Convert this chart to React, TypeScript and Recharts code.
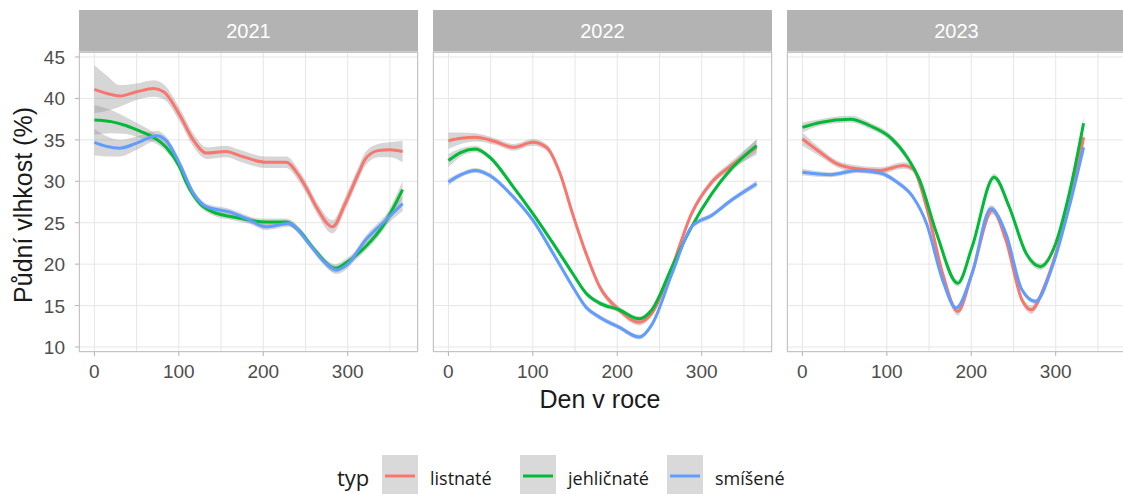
import React from 'react';
import { ComposedChart, Line, Area, XAxis, YAxis, CartesianGrid } from 'recharts';

// ---- data: [den v roce, půdní vlhkost %, polovina šířky pásu] ----
const YEARS = ['2021', '2022', '2023'];
const SERIES_NAMES = ['listnaté', 'jehličnaté', 'smíšené'];
const SERIES_COLORS = ['#F8766D', '#00BA38', '#619CFF'];
const X_TICKS = [0, 50, 100, 150, 200, 250, 300, 350];
const X_LABELED = [0, 100, 200, 300];
const Y_TICKS = [10, 15, 20, 25, 30, 35, 40, 45];

const listnate2021 = [[0,41.1,2.9],[15,40.6,2.1],[30,40.3,1.3],[50,40.8,1.0],[70,41.2,1.0],[82,40.8,0.9],[101,38.0,0.8],[117,35.0,0.8],[133,33.4,0.7],[156,33.6,0.7],[172,33.1,0.7],[203,32.3,0.7],[227,32.3,0.7],[242,30.7,0.7],[252,29.0,0.7],[264,26.7,0.7],[282,24.5,0.8],[297,27.3,0.8],[313,31.0,0.8],[321,32.7,0.8],[336,33.7,0.8],[350,33.8,0.9],[365,33.6,1.3]];
const jehlicnate2021 = [[0,37.4,1.8],[20,37.2,1.4],[38,36.7,1.0],[55,36.0,0.8],[70,35.3,0.6],[85,34.1,0.5],[101,31.7,0.5],[109,29.8,0.5],[125,27.3,0.4],[140,26.3,0.4],[164,25.7,0.4],[203,25.1,0.4],[227,25.1,0.4],[242,24.1,0.4],[261,21.7,0.4],[285,19.5,0.5],[297,20.1,0.5],[321,22.1,0.5],[341,24.5,0.6],[365,29.0,1.0]];
const smisene2021 = [[0,34.7,1.6],[15,34.2,1.2],[30,34.0,1.0],[50,34.6,0.8],[74,35.5,0.6],[85,34.9,0.5],[101,32.1,0.5],[117,28.6,0.4],[133,26.9,0.4],[160,26.3,0.4],[180,25.5,0.4],[203,24.5,0.4],[230,24.9,0.4],[254,22.5,0.4],[270,20.5,0.4],[287,19.3,0.5],[300,20.0,0.5],[321,22.9,0.5],[345,25.3,0.6],[365,27.3,0.9]];

const listnate2022 = [[0,34.9,1.0],[15,35.2,0.7],[32,35.3,0.5],[55,34.8,0.4],[77,34.1,0.4],[100,34.7,0.4],[116,34.1,0.4],[132,31.0,0.4],[147,26.1,0.4],[163,21.3,0.4],[179,17.3,0.4],[202,14.5,0.4],[226,13.0,0.4],[241,14.1,0.4],[265,19.7,0.4],[288,26.1,0.4],[312,29.9,0.4],[335,31.9,0.5],[365,34.1,0.9]];
const jehlicnate2022 = [[0,32.5,0.8],[15,33.5,0.5],[32,33.9,0.4],[49,32.9,0.3],[77,29.3,0.3],[100,26.1,0.3],[124,22.5,0.3],[147,18.9,0.3],[163,16.5,0.3],[179,15.3,0.3],[202,14.5,0.3],[226,13.4,0.3],[241,14.5,0.3],[265,19.7,0.3],[288,24.5,0.3],[312,28.5,0.3],[335,31.5,0.4],[365,34.3,0.8]];
const smisene2022 = [[0,29.9,0.4],[15,30.8,0.3],[32,31.3,0.3],[49,30.7,0.3],[77,28.1,0.3],[100,25.3,0.3],[124,21.3,0.3],[147,17.3,0.3],[163,14.8,0.3],[179,13.6,0.3],[202,12.4,0.3],[226,11.2,0.3],[241,12.7,0.3],[265,18.9,0.3],[288,24.5,0.3],[312,25.9,0.3],[335,27.7,0.3],[365,29.7,0.4]];

const listnate2023 = [[0,35.1,0.8],[21,33.5,0.5],[41,32.1,0.4],[65,31.5,0.4],[92,31.3,0.4],[120,31.9,0.4],[131,31.5,0.4],[147,26.9,0.4],[166,18.9,0.4],[184,14.3,0.5],[201,18.9,0.4],[225,26.5,0.5],[241,22.9,0.4],[260,15.7,0.4],[271,14.5,0.5],[288,17.7,0.4],[312,25.7,0.4],[333,35.3,0.7]];
const jehlicnate2023 = [[0,36.5,0.6],[21,37.1,0.4],[57,37.5,0.4],[80,36.7,0.4],[104,35.3,0.4],[124,32.9,0.4],[139,30.1,0.4],[159,23.7,0.4],[184,17.7,0.4],[201,22.1,0.4],[227,30.5,0.4],[245,26.9,0.4],[265,21.3,0.4],[282,19.7,0.4],[300,22.5,0.4],[316,28.5,0.4],[333,37.0,0.8]];
const smisene2023 = [[0,31.1,0.4],[33,30.8,0.3],[65,31.3,0.3],[92,31.0,0.3],[112,29.9,0.3],[131,28.1,0.3],[147,24.9,0.3],[166,18.1,0.3],[182,14.7,0.3],[201,18.9,0.3],[223,26.7,0.4],[241,23.7,0.3],[260,16.9,0.3],[276,15.5,0.3],[296,19.7,0.3],[316,26.9,0.3],[333,34.1,0.5]];

const PANEL_DATA = [
  [listnate2021, jehlicnate2021, smisene2021],
  [listnate2022, jehlicnate2022, smisene2022],
  [listnate2023, jehlicnate2023, smisene2023],
];

const toRows = (arr: number[][]) => arr.map(([d, v, s]) => ({ d, v, lo: v - s, hi: v + s }));

const FONT = '"Liberation Sans", Arial, sans-serif';
const PANEL_LEFTS = [79, 433, 787];
const PANEL_TOP = 52;
const PANEL_W = 339;
const PANEL_H = 300;

const XTick = (props: any) => {
  const { x, y, payload } = props;
  if (!X_LABELED.includes(payload.value)) return <g />;
  return (
    <g>
      <line x1={x} x2={x} y1={y - 6} y2={y - 2} stroke="#b3b3b3" strokeWidth={1} />
      <text x={x} y={y + 20} textAnchor="middle" fill="#4d4d4d" fontSize={19} fontFamily={FONT}>
        {payload.value}
      </text>
    </g>
  );
};

const YTick = (props: any) => {
  const { x, y, payload } = props;
  return (
    <g>
      <line x1={x + 10} x2={x + 14} y1={y} y2={y} stroke="#b3b3b3" strokeWidth={1} />
      <text x={x} y={y + 7} textAnchor="end" fill="#4d4d4d" fontSize={19} fontFamily={FONT}>
        {payload.value}
      </text>
    </g>
  );
};

const EmptyTick = () => <g />;

function Panel({ idx }: { idx: number }) {
  const first = idx === 0;
  const left = PANEL_LEFTS[idx];
  const series = PANEL_DATA[idx].map(toRows);
  return (
    <div style={{ position: 'absolute', left: left - 70, top: PANEL_TOP - 10 }}>
      <ComposedChart
        width={70 + PANEL_W + 10}
        height={10 + PANEL_H + 40}
        margin={{ top: 10, right: 10, bottom: 0, left: first ? 0 : 70 }}
      >
        <CartesianGrid stroke="#e6e6e6" strokeWidth={1} />
        <XAxis
          dataKey="d"
          type="number"
          domain={[-18.25, 383.25]}
          ticks={X_TICKS}
          interval={0}
          allowDataOverflow
          axisLine={false}
          tickLine={false}
          tickSize={4}
          tickMargin={2}
          height={40}
          tick={XTick}
        />
        <YAxis
          type="number"
          domain={[9.4, 45.6]}
          ticks={Y_TICKS}
          interval={0}
          allowDataOverflow
          axisLine={false}
          tickLine={false}
          tickSize={4}
          tickMargin={10}
          width={first ? 70 : 0}
          tick={first ? YTick : EmptyTick}
        />
        {series.flatMap((rows, i) => [
          <Area
            key={'a' + i}
            data={rows}
            dataKey={(r: any) => [r.lo, r.hi]}
            type="monotone"
            stroke="none"
            fill="#999999"
            fillOpacity={0.4}
            isAnimationActive={false}
            activeDot={false}
          />,
          <Line
            key={'l' + i}
            data={rows}
            dataKey="v"
            type="monotone"
            stroke={SERIES_COLORS[i]}
            strokeWidth={3}
            dot={false}
            activeDot={false}
            isAnimationActive={false}
          />,
        ])}
      </ComposedChart>
    </div>
  );
}

export default function App() {
  return (
    <div style={{ position: 'absolute', left: 0, top: 0, width: 1123, height: 494, overflow: 'hidden', background: '#fff' }}>
      {YEARS.map((y, i) => (
        <div
          key={'s' + y}
          style={{
            position: 'absolute', left: PANEL_LEFTS[i], top: 10, width: PANEL_W, height: 42,
            background: '#b3b3b3', color: '#fff', fontFamily: FONT, fontSize: 20,
            display: 'flex', alignItems: 'center', justifyContent: 'center',
          }}
        >
          {y}
        </div>
      ))}
      {YEARS.map((y, i) => <Panel key={'p' + y} idx={i} />)}
      {YEARS.map((y, i) => (
        <div
          key={'b' + y}
          style={{
            position: 'absolute', left: PANEL_LEFTS[i], top: PANEL_TOP, width: PANEL_W, height: PANEL_H,
            border: '1px solid #c4c4c4', boxSizing: 'border-box', pointerEvents: 'none',
          }}
        />
      ))}
      <svg width={1123} height={494} style={{ position: 'absolute', left: 0, top: 0, pointerEvents: 'none' }}>
        <text x={0} y={0} transform="translate(32,205) rotate(-90)" textAnchor="middle" fontSize={25} fontFamily={FONT} fill="#1a1a1a">
          Půdní vlhkost (%)
        </text>
        <text x={600} y={408} textAnchor="middle" fontSize={25} fontFamily={FONT} fill="#1a1a1a">
          Den v roce
        </text>
        <text x={337} y={486} fontSize={22} fontFamily='"Open Sans", sans-serif' fill="#1a1a1a">typ</text>
        {SERIES_NAMES.map((name, i) => {
          const bx = [382, 520, 667][i];
          return (
            <g key={name}>
              <rect x={bx} y={455} width={36} height={40} fill="#d9d9d9" />
              <line x1={bx + 3} x2={bx + 33} y1={476} y2={476} stroke={SERIES_COLORS[i]} strokeWidth={3} />
              <text x={bx + 48} y={485} fontSize={18} fontFamily='"Open Sans", sans-serif' fill="#1a1a1a">{name}</text>
            </g>
          );
        })}
      </svg>
    </div>
  );
}
